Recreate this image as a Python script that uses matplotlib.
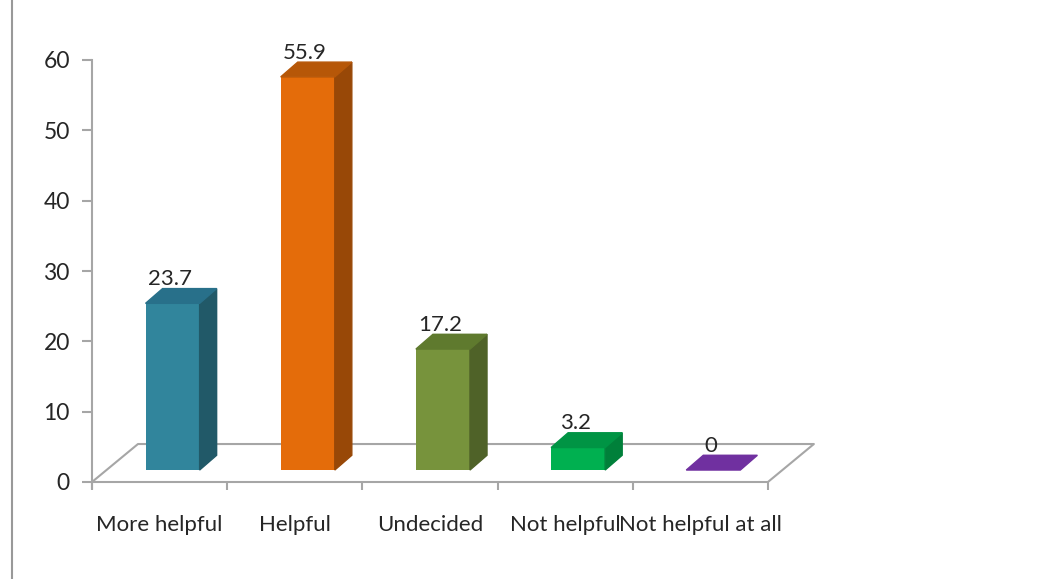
import matplotlib.pyplot as plt
from matplotlib.patches import Polygon
from matplotlib.lines import Line2D

categories = ['More helpful', 'Helpful', 'Undecided', 'Not helpful', 'Not helpful at all']
values = [23.7, 55.9, 17.2, 3.2, 0]
front_colors = ['#31859C', '#E46C0A', '#77933C', '#00B050', '#7030A0']
side_colors = ['#215968', '#984807', '#4F6228', '#00803A', '#4B1F6F']
top_colors = ['#28708A', '#B65708', '#5F7A2E', '#009444', '#5E2790']

plt.rcParams['font.family'] = ['Lato', 'DejaVu Sans']

fig = plt.figure(figsize=(10.46, 5.79), dpi=100)
ax = fig.add_axes([92 / 1046, 1 - 482 / 579, (822 - 92) / 1046, 422 / 579])
ax.set_xlim(-0.5, 4.9)
ax.set_ylim(0, 60)

grey = '#A6A6A6'
txt = '#262626'
# floor depth and bar placement in data units
fdx, fdy = 0.34, 5.4
ox, oy = 0.096, 1.7
bdx, bdy = 0.126, 2.1
w = 0.4

# floor
ax.plot([-0.5, 4.5, 4.5 + fdx, -0.5 + fdx, -0.5], [0, 0, fdy, fdy, 0],
        color=grey, lw=1.5, clip_on=False, zorder=1)

for i, v in enumerate(values):
    xl = i + ox - w / 2
    xr = i + ox + w / 2
    if v > 0:
        ax.bar(i + ox, v, bottom=oy, width=w, color=front_colors[i], zorder=3)
        ax.add_patch(Polygon([(xr, oy), (xr + bdx, oy + bdy), (xr + bdx, oy + bdy + v), (xr, oy + v)],
                             closed=True, color=side_colors[i], zorder=3, clip_on=False))
    ax.add_patch(Polygon([(xl, oy + v), (xr, oy + v), (xr + bdx, oy + v + bdy), (xl + bdx, oy + v + bdy)],
                         closed=True, color=top_colors[i] if v > 0 else front_colors[i], zorder=3, clip_on=False))
    ax.text(i + ox - 0.02, oy + v + bdy - 0.1, str(v) if v else '0', ha='center', va='bottom',
            fontsize=16, color=txt, clip_on=False, zorder=4)

for s in ax.spines.values():
    s.set_visible(False)
ax.plot([-0.5, -0.5], [-0.9, 60], color=grey, lw=1.5, clip_on=False)

ax.set_yticks(range(0, 61, 10))
ax.tick_params(axis='y', length=7, width=1.5, color=grey, pad=9, labelsize=16.5, labelcolor=txt)
ax.set_xticks(range(len(categories)))
ax.set_xticklabels(categories)
ax.set_xticks([k - 0.5 for k in range(len(categories) + 1)], minor=True)
ax.tick_params(axis='x', which='major', length=0, pad=24, labelsize=16, labelcolor=txt)
ax.tick_params(axis='x', which='minor', length=6, width=1.5, color=grey)

fig.add_artist(Line2D([12 / 1046, 12 / 1046], [0, 1], color='#999999', lw=1.5))

fig.savefig('out.png', dpi=100)
